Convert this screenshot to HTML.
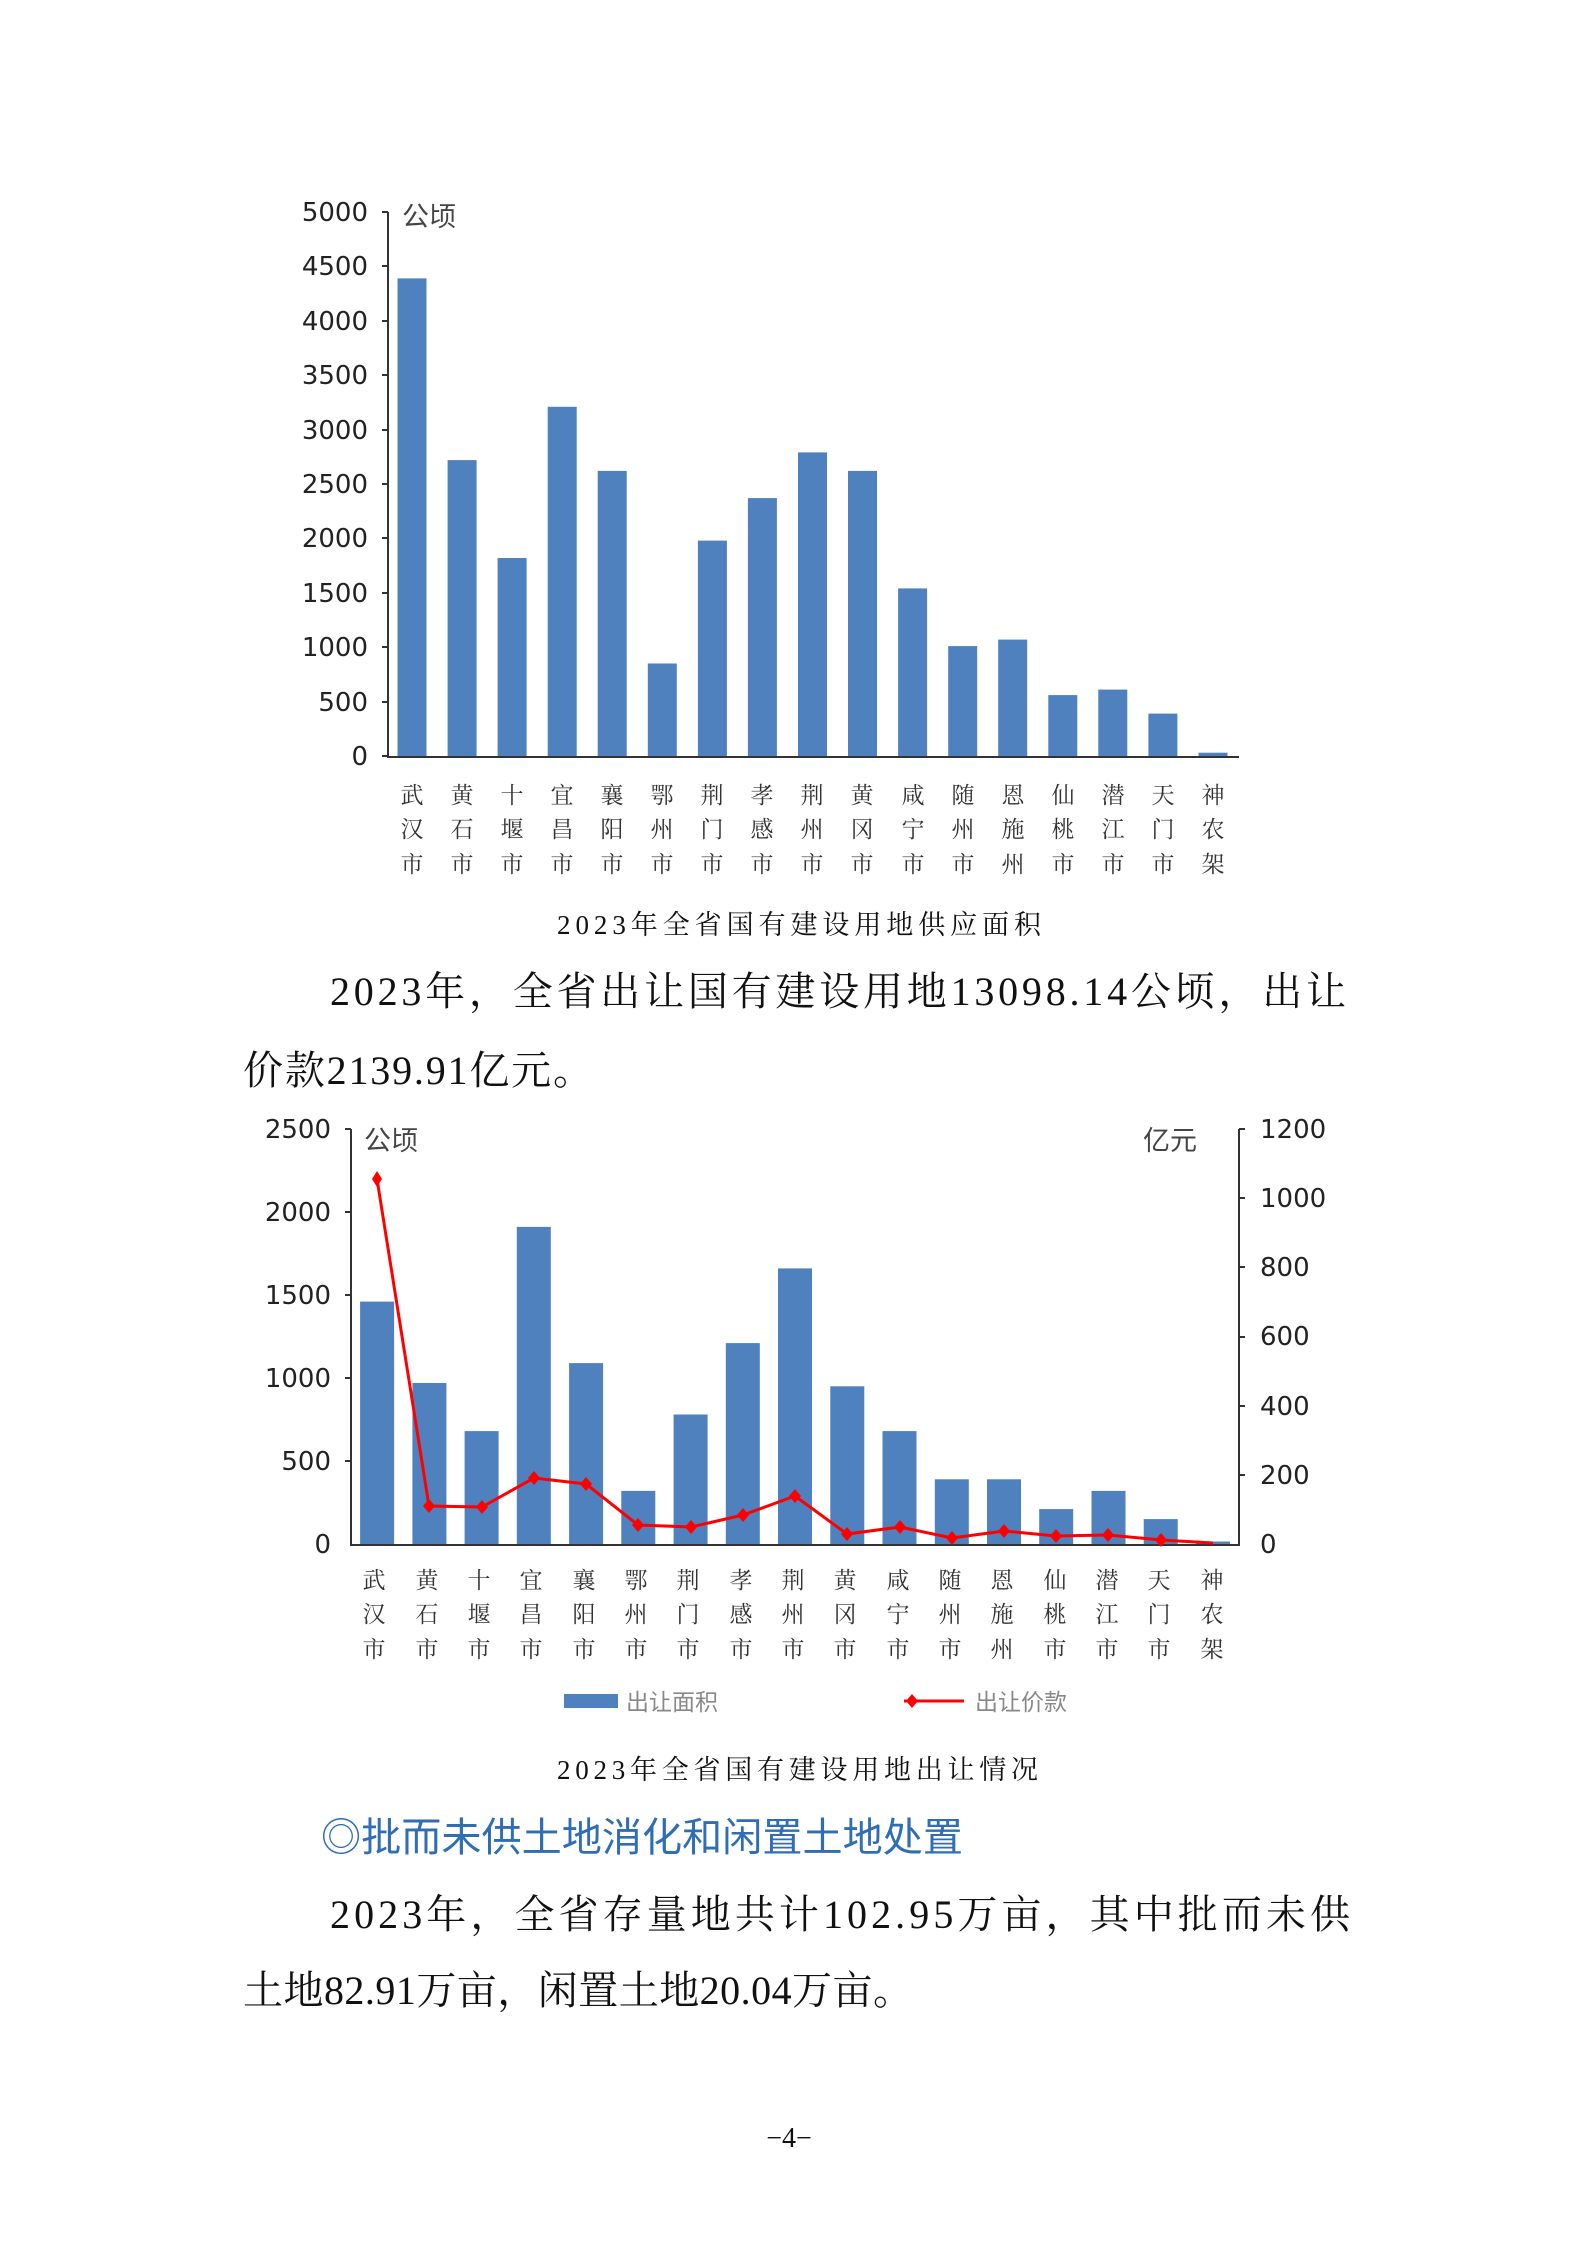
<!DOCTYPE html>
<html><head><meta charset="utf-8"><style>
html,body{margin:0;padding:0;background:#fff;}
svg{display:block;}
.t{font-family:"DejaVu Sans","Liberation Sans",sans-serif;font-size:26px;fill:#222;}
.c{font-family:"Liberation Serif","Noto Serif CJK SC",serif;font-size:23px;fill:#333;text-anchor:middle;}
.p{font-family:"Liberation Serif","Noto Serif CJK SC",serif;font-size:40px;fill:#111;}
.cap{font-family:"Liberation Serif","Noto Serif CJK SC",serif;font-size:27px;fill:#111;}
.u{font-family:"Liberation Sans","Noto Sans CJK SC",sans-serif;font-size:27px;fill:#444;}
</style></head><body>
<svg width="1587" height="2245" viewBox="0 0 1587 2245" xmlns="http://www.w3.org/2000/svg">
<!-- Chart 1 -->
<g class="t" text-anchor="end">
<text x="368" y="221">5000</text><text x="368" y="275">4500</text><text x="368" y="330">4000</text>
<text x="368" y="384">3500</text><text x="368" y="439">3000</text><text x="368" y="493">2500</text>
<text x="368" y="547">2000</text><text x="368" y="602">1500</text><text x="368" y="656">1000</text>
<text x="368" y="711">500</text><text x="368" y="765">0</text>
</g>
<text class="u" x="402" y="226">公顷</text>
<g stroke="#333" stroke-width="2">
<line x1="388" y1="212" x2="388" y2="757"/><line x1="387" y1="757" x2="1239" y2="757"/>
<line x1="382" y1="212" x2="388" y2="212"/><line x1="382" y1="266" x2="388" y2="266"/><line x1="382" y1="321" x2="388" y2="321"/><line x1="382" y1="375" x2="388" y2="375"/><line x1="382" y1="430" x2="388" y2="430"/><line x1="382" y1="484" x2="388" y2="484"/><line x1="382" y1="538" x2="388" y2="538"/><line x1="382" y1="593" x2="388" y2="593"/><line x1="382" y1="647" x2="388" y2="647"/><line x1="382" y1="702" x2="388" y2="702"/><line x1="382" y1="756" x2="388" y2="756"/>
</g>
<g fill="#4e81bd">
<rect x="397.5" y="278.4" width="29" height="477.6"/><rect x="447.6" y="460.1" width="29" height="295.9"/><rect x="497.6" y="558" width="29" height="198"/><rect x="547.7" y="406.8" width="29" height="349.2"/><rect x="597.7" y="470.9" width="29" height="285.1"/><rect x="647.8" y="663.5" width="29" height="92.5"/><rect x="697.9" y="540.6" width="29" height="215.4"/><rect x="747.9" y="498.1" width="29" height="257.9"/><rect x="798" y="452.4" width="29" height="303.6"/><rect x="848" y="470.9" width="29" height="285.1"/><rect x="898.1" y="588.4" width="29" height="167.6"/><rect x="948.2" y="646.1" width="29" height="109.9"/><rect x="998.2" y="639.6" width="29" height="116.4"/><rect x="1048.3" y="695.1" width="29" height="60.9"/><rect x="1098.3" y="689.6" width="29" height="66.4"/><rect x="1148.4" y="713.6" width="29" height="42.4"/><rect x="1198.5" y="752.7" width="29" height="3.3"/>
</g>
<g class="c">
<text x="412" y="803">武</text><text x="412" y="837">汉</text><text x="412" y="872">市</text>
<text x="462" y="803">黄</text><text x="462" y="837">石</text><text x="462" y="872">市</text>
<text x="512" y="803">十</text><text x="512" y="837">堰</text><text x="512" y="872">市</text>
<text x="562" y="803">宜</text><text x="562" y="837">昌</text><text x="562" y="872">市</text>
<text x="612" y="803">襄</text><text x="612" y="837">阳</text><text x="612" y="872">市</text>
<text x="662" y="803">鄂</text><text x="662" y="837">州</text><text x="662" y="872">市</text>
<text x="712" y="803">荆</text><text x="712" y="837">门</text><text x="712" y="872">市</text>
<text x="762" y="803">孝</text><text x="762" y="837">感</text><text x="762" y="872">市</text>
<text x="812" y="803">荆</text><text x="812" y="837">州</text><text x="812" y="872">市</text>
<text x="862" y="803">黄</text><text x="862" y="837">冈</text><text x="862" y="872">市</text>
<text x="913" y="803">咸</text><text x="913" y="837">宁</text><text x="913" y="872">市</text>
<text x="963" y="803">随</text><text x="963" y="837">州</text><text x="963" y="872">市</text>
<text x="1013" y="803">恩</text><text x="1013" y="837">施</text><text x="1013" y="872">州</text>
<text x="1063" y="803">仙</text><text x="1063" y="837">桃</text><text x="1063" y="872">市</text>
<text x="1113" y="803">潜</text><text x="1113" y="837">江</text><text x="1113" y="872">市</text>
<text x="1163" y="803">天</text><text x="1163" y="837">门</text><text x="1163" y="872">市</text>
<text x="1213" y="803">神</text><text x="1213" y="837">农</text><text x="1213" y="872">架</text>
</g>
<text class="cap" x="557" y="934" textLength="484" lengthAdjust="spacing">2023年全省国有建设用地供应面积</text>
<text class="p" x="330" y="1005" textLength="1016" lengthAdjust="spacing">2023年，全省出让国有建设用地13098.14公顷，出让</text>
<text class="p" x="243" y="1084" textLength="350" lengthAdjust="spacing">价款2139.91亿元。</text>

<!-- Chart 2 -->
<g class="t" text-anchor="end">
<text x="331" y="1138">2500</text><text x="331" y="1221">2000</text><text x="331" y="1304">1500</text>
<text x="331" y="1387">1000</text><text x="331" y="1470">500</text><text x="331" y="1553">0</text>
</g>
<g class="t">
<text x="1260" y="1138">1200</text><text x="1260" y="1207">1000</text><text x="1260" y="1276">800</text>
<text x="1260" y="1345">600</text><text x="1260" y="1415">400</text><text x="1260" y="1484">200</text><text x="1260" y="1553">0</text>
</g>
<text class="u" x="364" y="1150">公顷</text>
<text class="u" x="1143" y="1150">亿元</text>
<g stroke="#333" stroke-width="2">
<line x1="351" y1="1129" x2="351" y2="1545"/><line x1="1239" y1="1129" x2="1239" y2="1545"/><line x1="350" y1="1545" x2="1240" y2="1545"/>
<line x1="345" y1="1129" x2="351" y2="1129"/><line x1="345" y1="1212" x2="351" y2="1212"/><line x1="345" y1="1295" x2="351" y2="1295"/><line x1="345" y1="1378" x2="351" y2="1378"/><line x1="345" y1="1461" x2="351" y2="1461"/>
<line x1="1239" y1="1129" x2="1245" y2="1129"/><line x1="1239" y1="1198" x2="1245" y2="1198"/><line x1="1239" y1="1267" x2="1245" y2="1267"/><line x1="1239" y1="1337" x2="1245" y2="1337"/><line x1="1239" y1="1406" x2="1245" y2="1406"/><line x1="1239" y1="1475" x2="1245" y2="1475"/>
</g>
<g fill="#4e81bd">
<rect x="360.1" y="1301.6" width="34" height="242.4"/><rect x="412.4" y="1383" width="34" height="161"/><rect x="464.6" y="1431.1" width="34" height="112.9"/><rect x="516.8" y="1226.9" width="34" height="317.1"/><rect x="569.1" y="1363.1" width="34" height="180.9"/><rect x="621.3" y="1490.9" width="34" height="53.1"/><rect x="673.6" y="1414.5" width="34" height="129.5"/><rect x="725.8" y="1343.1" width="34" height="200.9"/><rect x="778" y="1268.4" width="34" height="275.6"/><rect x="830.3" y="1386.3" width="34" height="157.7"/><rect x="882.5" y="1431.1" width="34" height="112.9"/><rect x="934.8" y="1479.3" width="34" height="64.7"/><rect x="987" y="1479.3" width="34" height="64.7"/><rect x="1039.2" y="1509.1" width="34" height="34.9"/><rect x="1091.5" y="1490.9" width="34" height="53.1"/><rect x="1143.7" y="1519.1" width="34" height="24.9"/><rect x="1196" y="1541.5" width="34" height="2.5"/>
</g>
<polyline fill="none" stroke="#ff0000" stroke-width="3" points="377,1179 429,1506 482,1507 534,1478 586,1484 638,1525 691,1527 743,1515 795,1496 847,1534 900,1527 952,1538 1004,1531 1056,1536 1108,1535 1161,1540 1213,1543"/>
<g fill="#ff0000">
<path d="M377,1171 l5,8 -5,8 -5,-8z"/><path d="M429,1499 l6,7 -6,7 -6,-7z"/><path d="M482,1500 l6,7 -6,7 -6,-7z"/><path d="M534,1471 l6,7 -6,7 -6,-7z"/><path d="M586,1477 l6,7 -6,7 -6,-7z"/><path d="M638,1518 l6,7 -6,7 -6,-7z"/><path d="M691,1520 l6,7 -6,7 -6,-7z"/><path d="M743,1508 l6,7 -6,7 -6,-7z"/><path d="M795,1489 l6,7 -6,7 -6,-7z"/><path d="M847,1527 l6,7 -6,7 -6,-7z"/><path d="M900,1520 l6,7 -6,7 -6,-7z"/><path d="M952,1531 l6,7 -6,7 -6,-7z"/><path d="M1004,1524 l6,7 -6,7 -6,-7z"/><path d="M1056,1529 l6,7 -6,7 -6,-7z"/><path d="M1108,1528 l6,7 -6,7 -6,-7z"/><path d="M1161,1533 l6,7 -6,7 -6,-7z"/>
</g>
<g class="c">
<text x="374" y="1588">武</text><text x="374" y="1622">汉</text><text x="374" y="1657">市</text>
<text x="427" y="1588">黄</text><text x="427" y="1622">石</text><text x="427" y="1657">市</text>
<text x="479" y="1588">十</text><text x="479" y="1622">堰</text><text x="479" y="1657">市</text>
<text x="531" y="1588">宜</text><text x="531" y="1622">昌</text><text x="531" y="1657">市</text>
<text x="584" y="1588">襄</text><text x="584" y="1622">阳</text><text x="584" y="1657">市</text>
<text x="636" y="1588">鄂</text><text x="636" y="1622">州</text><text x="636" y="1657">市</text>
<text x="688" y="1588">荆</text><text x="688" y="1622">门</text><text x="688" y="1657">市</text>
<text x="741" y="1588">孝</text><text x="741" y="1622">感</text><text x="741" y="1657">市</text>
<text x="793" y="1588">荆</text><text x="793" y="1622">州</text><text x="793" y="1657">市</text>
<text x="845" y="1588">黄</text><text x="845" y="1622">冈</text><text x="845" y="1657">市</text>
<text x="898" y="1588">咸</text><text x="898" y="1622">宁</text><text x="898" y="1657">市</text>
<text x="950" y="1588">随</text><text x="950" y="1622">州</text><text x="950" y="1657">市</text>
<text x="1002" y="1588">恩</text><text x="1002" y="1622">施</text><text x="1002" y="1657">州</text>
<text x="1055" y="1588">仙</text><text x="1055" y="1622">桃</text><text x="1055" y="1657">市</text>
<text x="1107" y="1588">潜</text><text x="1107" y="1622">江</text><text x="1107" y="1657">市</text>
<text x="1159" y="1588">天</text><text x="1159" y="1622">门</text><text x="1159" y="1657">市</text>
<text x="1212" y="1588">神</text><text x="1212" y="1622">农</text><text x="1212" y="1657">架</text>
</g>
<rect x="564" y="1694" width="54" height="14" fill="#4e81bd"/>
<text class="u" x="626" y="1710" style="font-size:23px;fill:#888">出让面积</text>
<line x1="904" y1="1701" x2="964" y2="1701" stroke="#ff0000" stroke-width="3"/>
<path d="M912,1694 l6,7 -6,7 -6,-7z" fill="#ff0000"/>
<text class="u" x="975" y="1710" style="font-size:23px;fill:#888">出让价款</text>
<text class="cap" x="557" y="1779" textLength="481" lengthAdjust="spacing">2023年全省国有建设用地出让情况</text>

<text x="321" y="1851" textLength="642" lengthAdjust="spacingAndGlyphs" style="font-family:'Liberation Sans','Noto Sans CJK SC',sans-serif;font-size:40px;fill:#2f6db5">◎批而未供土地消化和闲置土地处置</text>
<text class="p" x="330" y="1928" textLength="1020" lengthAdjust="spacing">2023年，全省存量地共计102.95万亩，其中批而未供</text>
<text class="p" x="243" y="2004" textLength="670" lengthAdjust="spacing">土地82.91万亩，闲置土地20.04万亩。</text>
<text class="cap" x="789" y="2147" text-anchor="middle" style="font-size:28px">−4−</text>
</svg>
</body></html>
